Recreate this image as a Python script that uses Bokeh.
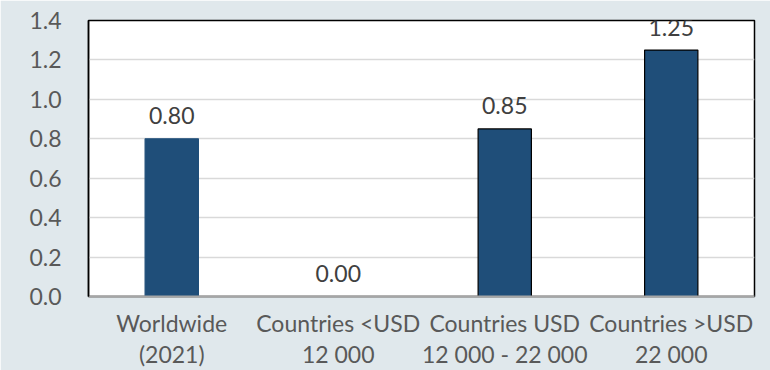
from bokeh.plotting import figure
from bokeh.models import FactorRange, Range1d, FixedTicker, ColumnDataSource, NumeralTickFormatter
from bokeh.core.properties import value
from bokeh.embed import file_html
from bokeh.resources import INLINE

categories = ["Worldwide\n(2021)", "Countries <USD\n12 000", "Countries USD\n12 000 - 22 000", "Countries >USD\n22 000"]
values = [0.80, 0.00, 0.85, 1.25]
labels = ["0.80", "0.00", "0.85", "1.25"]
y_ticks = [0.0, 0.2, 0.4, 0.6, 0.8, 1.0, 1.2, 1.4]

BG = "#E0E8EC"
FONT = "Lato"
TXT = "#595959"
FS = "23px"

src = ColumnDataSource(dict(cat=categories, val=values, lab=labels,
                            lc=["#1F4E79", "black", "black", "black"]))

p = figure(x_range=FactorRange(*categories, range_padding=0), y_range=Range1d(0, 1.4),
           width=770, height=370, output_backend="svg", toolbar_location=None,
           min_border_left=88, min_border_right=16, min_border_top=20, min_border_bottom=74)
p.background_fill_color = "white"
p.border_fill_color = BG
p.outline_line_color = "black"
p.outline_line_width = 1.5

p.vbar(x="cat", top="val", width=0.32, source=src, fill_color="#1F4E79",
       line_color="lc", line_width=1.2)
p.text(x="cat", y="val", text="lab", source=src, text_align="center", text_baseline="middle",
       y_offset=-23, text_font=value(FONT), text_font_size=FS, text_color="#404040")

p.xgrid.grid_line_color = None
p.ygrid.grid_line_color = "#D9D9D9"
p.ygrid.grid_line_width = 1.5
p.yaxis.ticker = FixedTicker(ticks=y_ticks)
p.yaxis.formatter = NumeralTickFormatter(format="0.0")
for ax in (p.xaxis, p.yaxis):
    ax.major_tick_line_color = None
    ax.minor_tick_line_color = None
    ax.major_tick_out = 0
    ax.major_tick_in = 0
    ax.minor_tick_out = 0
    ax.major_label_text_font = FONT
    ax.major_label_text_font_size = FS
    ax.major_label_text_color = TXT
p.yaxis.axis_line_color = "black"
p.yaxis.axis_line_width = 1.5
p.yaxis.major_label_standoff = 27
p.xaxis.axis_line_color = "#A6A6A6"
p.xaxis.axis_line_width = 2
p.xaxis.major_label_standoff = 12
p.xaxis.major_label_text_line_height = 1.12

open("out.html", "w").write(file_html(p, INLINE))
